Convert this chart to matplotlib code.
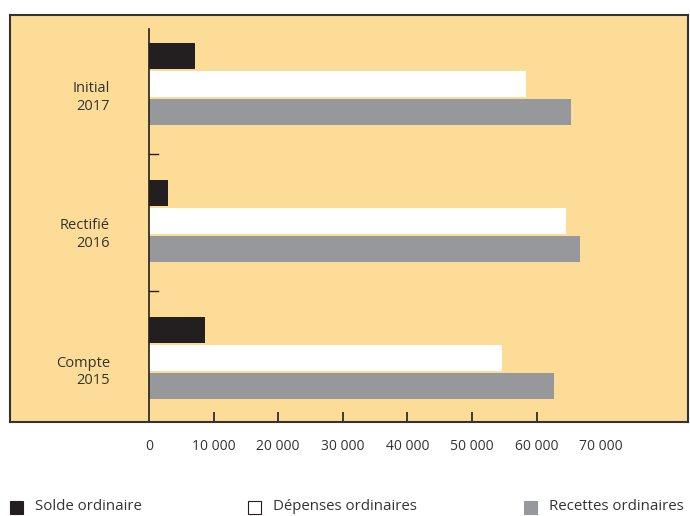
import matplotlib
matplotlib.use("Agg")
import matplotlib.pyplot as plt
from matplotlib.patches import Rectangle

categories = ["Initial\n2017", "Rectifié\n2016", "Compte\n2015"]
solde = [7100, 2950, 8650]
depenses = [58300, 64550, 54650]
recettes = [65300, 66700, 62700]
series_names = ["Solde ordinaire", "Dépenses ordinaires", "Recettes ordinaires"]
xticks = [0, 10000, 20000, 30000, 40000, 50000, 60000, 70000]
xtick_labels = ["0", "10 000", "20 000", "30 000", "40 000", "50 000", "60 000", "70 000"]

BG = "#FDDC97"
C_BLACK = "#231F20"
C_WHITE = "#FFFFFF"
C_GRAY = "#97989B"
TXT = "#333333"
plt.rcParams['font.family'] = ['Open Sans', 'DejaVu Sans']

W, H = 690, 516
fig = plt.figure(figsize=(W / 100, H / 100), dpi=100)
# axes frame: x 10..688, y 15..422 (pixels from top)
ax = fig.add_axes([10 / W, 1 - 422 / H, 678 / W, 407 / H])
ax.set_facecolor(BG)

pos = [2, 1, 0]
bh = 0.189
step = 0.204
ax.barh([p + step for p in pos], solde, height=bh, color=C_BLACK, left=0)
ax.barh(pos, depenses, height=bh, color=C_WHITE)
ax.barh([p - step for p in pos], recettes, height=bh, color=C_GRAY)

pxx = 10000 / 64.6
ax.set_xlim(-(149 - 10) * pxx, (688 - 149) * pxx)
ax.set_ylim(-0.465, 2.502)

# vertical axis line
ax.axvline(0, ymin=0, ymax=(422 - 29) / 407, color=C_BLACK, lw=1.2)
# small separators between groups
for ysep in [1.5, 0.5]:
    ax.plot([0, 9 * pxx], [ysep - 0.01, ysep - 0.01], color=C_BLACK, lw=1.0)

for p, c in zip(pos, categories):
    ax.text(-39 * pxx, p - 0.1, c, ha="right", va="center", fontsize=10.5,
            color=TXT, linespacing=1.25)

ax.set_yticks([])
ax.set_xticks(xticks)
ax.set_xticklabels(xtick_labels, fontsize=10, color=TXT)
ax.tick_params(axis="x", direction="in", length=7.5, width=1.2, pad=12,
               color=C_BLACK)
ax.xaxis.get_major_ticks()[-1].tick1line.set_visible(False)
ax.xaxis.get_major_ticks()[0].tick1line.set_visible(False)
for s in ax.spines.values():
    s.set_color("#333333")
    s.set_linewidth(1.5)

# legend
leg = [(10, C_BLACK, 35), (248, C_WHITE, 273), (524, C_GRAY, 549)]
for (x0, col, tx), name in zip(leg, series_names):
    fig.patches.append(Rectangle((x0 / W, 1 - 514 / H), 13 / W, 13 / H,
                                 transform=fig.transFigure, facecolor=col,
                                 edgecolor="#231F20" if col == C_WHITE else col,
                                 lw=0.8))
    fig.text(tx / W, 1 - 507 / H, name, ha="left", va="center", fontsize=10.8,
             color=TXT)

fig.savefig("out.png", dpi=100, facecolor="white")
